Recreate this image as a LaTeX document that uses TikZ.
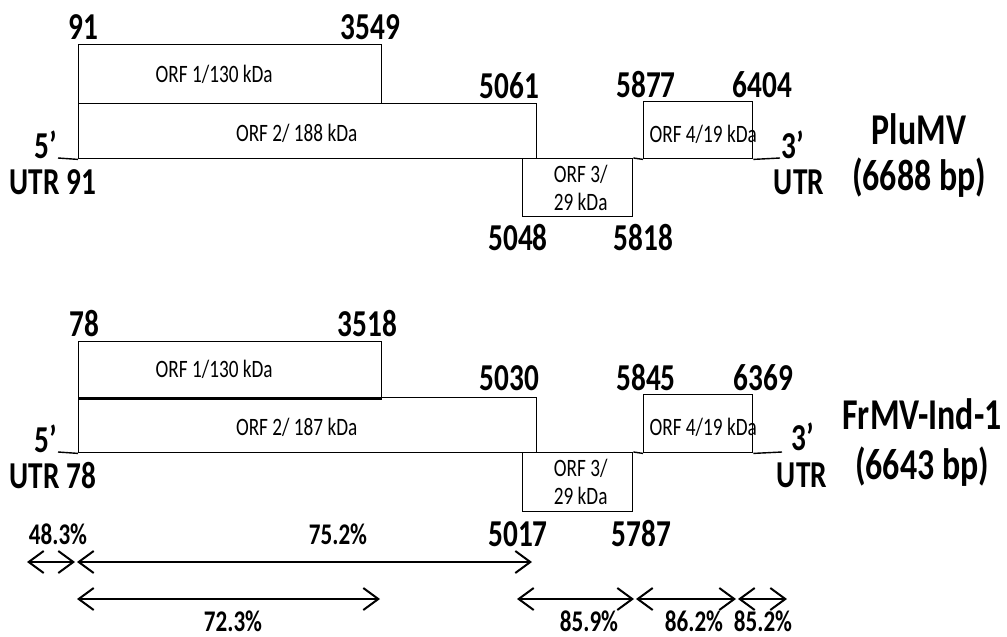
\documentclass[tikz,border=0pt]{standalone}
\usepackage{fontspec}
\setmainfont{Carlito}[FakeStretch=0.77]
\usetikzlibrary{arrows.meta}
\begin{document}
\begin{tikzpicture}[
    x=1pt, y=-1pt,
    orfbox/.style={draw, line width=1.4pt, anchor=north west, inner sep=0pt},
    orftxt/.style={font=\fontsize{25}{28}\selectfont, inner sep=0pt, align=center},
    ntlbl/.style={font=\bfseries\fontsize{38}{40}\selectfont, inner sep=0pt},
    pct/.style={font=\bfseries\fontsize{30}{33}\selectfont, inner sep=0pt, anchor=base},
    virus/.style={font=\bfseries\fontsize{44}{48}\selectfont, inner sep=0pt, anchor=base},
    leader/.style={line width=1.4pt},
    idarrow/.style={{Straight Barb[length=15pt,width=22pt]}-{Straight Barb[length=15pt,width=22pt]},
                    line width=2pt}]
  \useasboundingbox (0,0) rectangle (1007,637);

  % PluMV genome
  \node[orfbox, minimum width=303pt, minimum height=59pt] (p1) at (78,44) {};
  \node[orfbox, minimum width=458pt, minimum height=55pt] (p2) at (78,103) {};
  \node[orfbox, minimum width=110pt, minimum height=58pt] (p3) at (522,158) {};
  \node[orfbox, minimum width=109pt, minimum height=57pt] (p4) at (643,101) {};
  \node[orftxt] at ([xshift=-16pt]p1.center) {ORF 1/130 kDa};
  \node[orftxt] at ([xshift=-11pt,yshift=-2pt]p2.center) {ORF 2/ 188 kDa};
  \node[orftxt] at ([xshift=3pt]p3.center) {ORF 3/\\29 kDa};
  \node[orftxt] at ([xshift=5pt,yshift=-4pt]p4.center) {ORF 4/19 kDa};
  \coordinate (p5end) at (58,158);
  \coordinate (p3end) at (780,158);
  \draw[leader] (p5end) -- (p2.south west);
  \draw[leader] (p3.north east) -- (p4.south west);
  \draw[leader] (p4.south east) -- (p3end);

  \node[ntlbl, anchor=base] at ([xshift=5pt,yshift=5pt]p1.north west) {91};
  \node[ntlbl, anchor=base] at ([xshift=-12pt,yshift=5pt]p1.north east) {3549};
  \node[ntlbl, anchor=base east] at ([xshift=2pt,yshift=5pt]p2.north east) {5061};
  \node[ntlbl, anchor=base] at ([xshift=3pt,yshift=4pt]p4.north west) {5877};
  \node[ntlbl, anchor=base] at ([xshift=9pt,yshift=4pt]p4.north east) {6404};
  \node[ntlbl, anchor=base] at ([xshift=-4pt,yshift=-33pt]p3.south west) {5048};
  \node[ntlbl, anchor=base] at ([xshift=10pt,yshift=-33pt]p3.south east) {5818};
  \node[ntlbl, anchor=base east] (p5lbl) at ([xshift=-1pt]p5end) {5’};
  \node[ntlbl, anchor=base] (putr5) at (53,194) {UTR 91};
  \node[ntlbl, anchor=base west] (p3lbl) at ([xshift=1pt]p3end) {3’};
  \node[ntlbl, anchor=base] (putr3) at (799,194) {UTR};
  \node[virus] (plumv) at (919,144) {PluMV};
  \node[virus] (plumvbp) at (919,190) {(6688 bp)};

  % FrMV-Ind-1 genome
  \node[orfbox, minimum width=303pt, minimum height=56pt] (f1) at (78,341) {};
  \node[orfbox, minimum width=458pt, minimum height=55pt] (f2) at (78,397) {};
  \node[orfbox, minimum width=110pt, minimum height=59pt] (f3) at (522,452) {};
  \node[orfbox, minimum width=109pt, minimum height=58pt] (f4) at (643,394) {};
  \draw[line width=3pt] (f1.south west) -- (f1.south east);
  \node[orftxt] at ([xshift=-16pt]f1.center) {ORF 1/130 kDa};
  \node[orftxt] at ([xshift=-11pt,yshift=-2pt]f2.center) {ORF 2/ 187 kDa};
  \node[orftxt] at ([xshift=3pt]f3.center) {ORF 3/\\29 kDa};
  \node[orftxt] at ([xshift=5pt,yshift=-4pt]f4.center) {ORF 4/19 kDa};
  \coordinate (f5end) at (58,452);
  \coordinate (f3end) at (782,452);
  \draw[leader] (f5end) -- (f2.south west);
  \draw[leader] (f3.north east) -- (f4.south west);
  \draw[leader] (f4.south east) -- (f3end);

  \node[ntlbl, anchor=base] at ([xshift=6pt,yshift=5pt]f1.north west) {78};
  \node[ntlbl, anchor=base] at ([xshift=-15pt,yshift=5pt]f1.north east) {3518};
  \node[ntlbl, anchor=base east] at ([xshift=2pt,yshift=7pt]f2.north east) {5030};
  \node[ntlbl, anchor=base] at ([xshift=3pt,yshift=4pt]f4.north west) {5845};
  \node[ntlbl, anchor=base] at ([xshift=10pt,yshift=4pt]f4.north east) {6369};
  \node[ntlbl, anchor=base] at ([xshift=-4pt,yshift=-34pt]f3.south west) {5017};
  \node[ntlbl, anchor=base] at ([xshift=8pt,yshift=-34pt]f3.south east) {5787};
  \node[ntlbl, anchor=base east] (f5lbl) at ([xshift=-1pt]f5end) {5’};
  \node[ntlbl, anchor=base] (futr5) at (53,488) {UTR 78};
  \node[ntlbl, anchor=base west] (f3lbl) at ([xshift=9pt,yshift=2pt]f3end) {3’};
  \node[ntlbl, anchor=base] (futr3) at (802,487) {UTR};
  \node[virus] (frmv) at (922,429) {FrMV-Ind-1};
  \node[virus] (frmvbp) at (922,479) {(6643 bp)};

  % identity spans
  \coordinate (r1a) at (27,562);
  \coordinate (r1b) at (75,562);
  \coordinate (r1c) at (77,562);
  \coordinate (r1d) at (532,562);
  \coordinate (r2a) at (77,599);
  \coordinate (r2b) at (380,599);
  \coordinate (r2c) at (517,599);
  \coordinate (r2d) at (634,599);
  \coordinate (r2e) at (636,599);
  \coordinate (r2f) at (736,599);
  \coordinate (r2g) at (738,599);
  \coordinate (r2h) at (787,599);
  \draw[idarrow] (r1a) -- (r1b);
  \draw[idarrow] (r1c) -- (r1d);
  \draw[idarrow] (r2a) -- (r2b);
  \draw[idarrow] (r2c) -- (r2d);
  \draw[idarrow] (r2e) -- (r2f);
  \draw[idarrow] (r2g) -- (r2h);
  \node[pct] at (58,544) {48.3\%};
  \node[pct] at (338,544) {75.2\%};
  \node[pct] at (233,631) {72.3\%};
  \node[pct] at (589,631) {85.9\%};
  \node[pct] at (694,631) {86.2\%};
  \node[pct] at (763,631) {85.2\%};
\end{tikzpicture}
\end{document}
